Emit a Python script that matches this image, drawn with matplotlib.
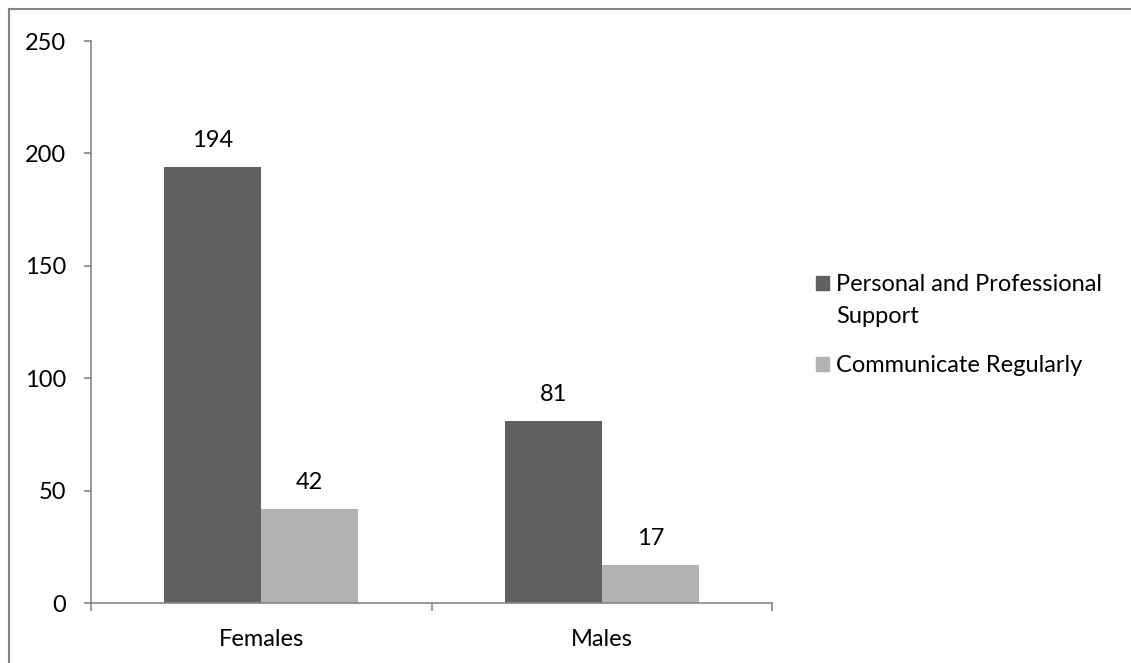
import matplotlib.pyplot as plt
from matplotlib.lines import Line2D
from matplotlib.patches import Rectangle

plt.rcParams['font.family'] = ['Lato', 'DejaVu Sans']

categories = ["Females", "Males"]
support = [194, 81]
communicate = [42, 17]
series_names = ["Personal and Professional\nSupport", "Communicate Regularly"]
yticks = [0, 50, 100, 150, 200, 250]

W, H = 1131, 663
fig = plt.figure(figsize=(W / 100, H / 100), dpi=100)
ax = fig.add_axes([91 / W, (H - 603) / H, 681 / W, 562 / H])

dark = "#606060"
light = "#b2b2b2"
fs = 17
bw = 0.285
x = range(len(categories))
b1 = ax.bar([i - bw / 2 for i in x], support, bw, color=dark)
b2 = ax.bar([i + bw / 2 for i in x], communicate, bw, color=light)

for bars in (b1, b2):
    for r in bars:
        ax.annotate(str(int(r.get_height())), (r.get_x() + r.get_width() / 2, r.get_height()),
                    xytext=(0, 14.4), textcoords="offset points", ha="center", va="baseline",
                    fontsize=fs)

ax.set_xlim(-0.5, 1.5)
ax.set_ylim(0, 250)
ax.set_yticks(yticks)
ax.set_xticks([0, 1])
ax.set_xticklabels(categories, fontsize=fs)
ax.set_xticks([-0.5, 0.5, 1.5], minor=True)
ax.tick_params(axis="x", which="major", length=0, pad=19)
ax.tick_params(axis="x", which="minor", length=5.5, color="#868686", width=1.2)
ax.tick_params(axis="y", length=5, color="#868686", width=1.2, labelsize=fs, pad=13)

for s in ("top", "right"):
    ax.spines[s].set_visible(False)
for s in ("left", "bottom"):
    ax.spines[s].set_color("#868686")
    ax.spines[s].set_linewidth(1.2)

# legend, drawn by hand so the square sits by the first line
legend_y = [284, 365]
for name, col, yc in zip(series_names, [dark, light], legend_y):
    fig.add_artist(Rectangle((816 / W, 1 - (yc + 6) / H), 13 / W, 14 / H,
                             transform=fig.transFigure, color=col))
    fig.text(836 / W, 1 - (yc - 10) / H, name, fontsize=fs, va="top", ha="left",
             linespacing=1.62)

fig.add_artist(Line2D([9 / W, 1], [1 - 9 / H, 1 - 9 / H], color="#868686", lw=1.5))
fig.add_artist(Line2D([9 / W, 9 / W], [0, 1 - 9 / H], color="#868686", lw=1.5))

fig.savefig("out.png", dpi=100)
